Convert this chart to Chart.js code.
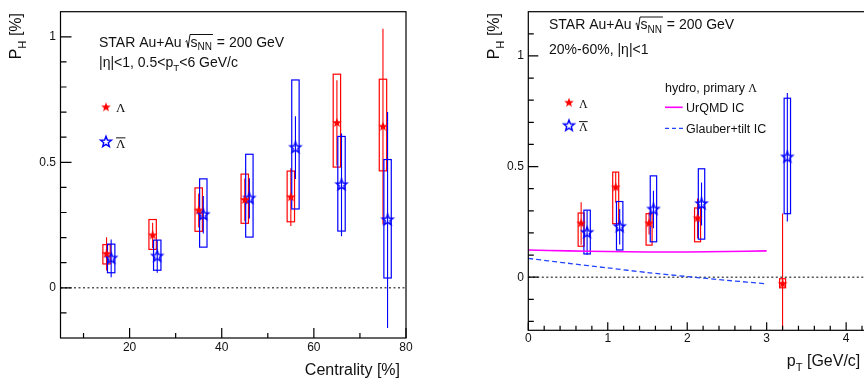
<!DOCTYPE html>
<html>
<head>
<meta charset="utf-8">
<script src="https://cdn.jsdelivr.net/npm/chart.js@4.4.1/dist/chart.umd.min.js"></script>
<style>
  html, body { margin: 0; padding: 0; background: #fff; overflow: hidden; width: 864px; height: 383px; }
  #centChart { position: absolute; left: 0; top: 0; }
  #ptChart { position: absolute; left: 432px; top: 0; }
</style>
</head>
<body>
<canvas id="centChart" width="432" height="383"></canvas>
<canvas id="ptChart" width="440" height="383"></canvas>
<script>
// Lambda polarization vs centrality
const centLam = [15, 25, 35, 45, 55, 65, 75];
const polLam = [0.135, 0.209, 0.308, 0.350, 0.361, 0.657, 0.642];
const statLam = [0.066, 0.05, 0.068, 0.085, 0.115, 0.17, 0.39];
const sysLamUp = [0.037, 0.063, 0.090, 0.103, 0.104, 0.194, 0.189];
const sysLamDn = [0.040, 0.056, 0.083, 0.093, 0.098, 0.176, 0.176];

// anti-Lambda polarization vs centrality
const centAnti = [16, 26, 36, 46, 56, 66, 76];
const polAnti = [0.117, 0.125, 0.291, 0.356, 0.558, 0.410, 0.270];
const statAnti = [0.075, 0.065, 0.075, 0.08, 0.125, 0.205, 0.43];
const sysAntiUp = [0.057, 0.065, 0.143, 0.176, 0.270, 0.193, 0.241];
const sysAntiDn = [0.057, 0.055, 0.129, 0.154, 0.244, 0.184, 0.231];

// pT dependence, 20-60%
const ptLam = [0.665, 1.10, 1.52, 2.13, 3.20];
const polLamPt = [0.243, 0.406, 0.243, 0.266, -0.030];
const statLamPt = [0.096, 0.07, 0.05, 0.09, 0.318];
const sysLamPtUp = [0.047, 0.069, 0.044, 0.047, 0.023];
const sysLamPtDn = [0.103, 0.164, 0.098, 0.106, 0.018];

const ptAnti = [0.74, 1.15, 1.575, 2.18, 3.26];
const polAntiPt = [0.201, 0.228, 0.306, 0.331, 0.542];
const statAntiPt = [0.10, 0.08, 0.085, 0.097, 0.29];
const sysAntiPtUp = [0.102, 0.114, 0.152, 0.159, 0.267];
const sysAntiPtDn = [0.096, 0.105, 0.146, 0.159, 0.255];

// hydro curves (primary Lambda)
const hydroPt = [0, 0.5, 1, 1.5, 2, 2.5, 3];
const urqmdPol = [0.123, 0.119, 0.116, 0.114, 0.114, 0.116, 0.119];
const glauberPol = [0.085, 0.063, 0.042, 0.021, 0.003, -0.014, -0.030];

// axis ticks
const centTicks = [20, 40, 60, 80];
const centMinor = [10, 30, 50, 70];
const polTicks = [0, 0.5, 1];
const polMinorCent = [-0.1, 0.1, 0.2, 0.3, 0.4, 0.6, 0.7, 0.8, 0.9];
const polMinorPt = [-0.2, -0.1, 0.1, 0.2, 0.3, 0.4, 0.6, 0.7, 0.8, 0.9, 1.1];
const ptTicks = [0, 1, 2, 3, 4];
const ptMinor = [0.2, 0.4, 0.6, 0.8, 1.2, 1.4, 1.6, 1.8, 2.2, 2.4, 2.6, 2.8, 3.2, 3.4, 3.6, 3.8, 4.2];

const SANS = '"Liberation Sans", Arial, Helvetica, sans-serif';
const SERIF = '"Liberation Serif", "Times New Roman", serif';
const INK = '#111';
const RED = '#ff0000';
const BLUE = '#0000ff';

function starImage(color, filled, r) {
  const size = Math.ceil(2 * r + 4);
  const c = document.createElement('canvas');
  c.width = c.height = size;
  const g = c.getContext('2d');
  g.beginPath();
  for (let i = 0; i < 10; i++) {
    const rr = i % 2 ? r * 0.42 : r;
    const ang = -Math.PI / 2 + i * Math.PI / 5;
    const px = size / 2 + rr * Math.cos(ang), py = size / 2 + rr * Math.sin(ang);
    if (i) g.lineTo(px, py); else g.moveTo(px, py);
  }
  g.closePath();
  if (filled) { g.fillStyle = color; g.fill(); }
  else { g.strokeStyle = color; g.lineWidth = 1.4; g.stroke(); }
  return c;
}
const redStar = starImage(RED, true, 5);
const blueStar = starImage(BLUE, false, 5.7);

function points(xs, ys) {
  return xs.map((x, i) => ({ x, y: ys[i] }));
}

// text with subscripts: parts are strings or {sub: '...'}
function richText(ctx, parts, x, y, size, align) {
  const fonts = parts.map(p => (typeof p === 'string' ? size : size * 0.7) + 'px ' + SANS);
  const texts = parts.map(p => (typeof p === 'string' ? p : p.sub));
  const widths = texts.map((t, i) => { ctx.font = fonts[i]; return ctx.measureText(t).width; });
  let cx = align === 'right' ? x - widths.reduce((a, b) => a + b, 0) : x;
  ctx.textAlign = 'left';
  texts.forEach((t, i) => {
    ctx.font = fonts[i];
    ctx.fillText(t, cx, y + (typeof parts[i] === 'string' ? 0 : size * 0.3));
    cx += widths[i];
  });
}

function drawEnergy(ctx, x, base) {
  ctx.font = '14px ' + SANS;
  ctx.fillText('STAR Au+Au', x, base);
  const cx = x + ctx.measureText('STAR Au+Au ').width;
  const sx = cx + 5;
  ctx.fillText('s', sx, base);
  const sw = ctx.measureText('s').width;
  ctx.font = '10px ' + SANS;
  ctx.fillText('NN', sx + sw, base + 3.5);
  const end = sx + sw + ctx.measureText('NN').width + 1;
  ctx.strokeStyle = INK;
  ctx.lineWidth = 1;
  ctx.beginPath();
  ctx.moveTo(cx, base - 5);
  ctx.lineTo(cx + 1.2, base - 6);
  ctx.lineTo(cx + 2.6, base + 1);
  ctx.lineTo(cx + 4.5, base - 12);
  ctx.lineTo(end, base - 12);
  ctx.stroke();
  ctx.font = '14px ' + SANS;
  ctx.fillText(' = 200 GeV', end, base);
}

function drawLambda(ctx, x, base, size, bar) {
  ctx.font = size + 'px ' + SERIF;
  ctx.textAlign = 'left';
  ctx.fillText('\u039B', x, base);
  if (bar) {
    const w = ctx.measureText('\u039B').width;
    ctx.lineWidth = 1;
    ctx.strokeStyle = INK;
    ctx.beginPath();
    ctx.moveTo(x, base - size * 0.78);
    ctx.lineTo(x + w, base - size * 0.78);
    ctx.stroke();
  }
}

function drawYTitle(ctx, bx, topY) {
  ctx.save();
  ctx.translate(bx, topY);
  ctx.rotate(-Math.PI / 2);
  richText(ctx, ['P', { sub: 'H' }, ' [%]'], 0, 0, 16, 'right');
  ctx.restore();
}

// ROOT-like frame: dotted zero line, systematic boxes, stat bars, inward ticks, texts
function framePlugin(cfg) {
  return {
    id: 'frame',
    beforeDatasetsDraw(chart) {
      const { ctx, chartArea: a, scales: { x, y } } = chart;
      ctx.save();
      const y0 = y.getPixelForValue(0);
      ctx.strokeStyle = '#555';
      ctx.lineWidth = 1.5;
      ctx.setLineDash([2, 2.5]);
      ctx.beginPath();
      ctx.moveTo(a.left, y0);
      ctx.lineTo(a.right, y0);
      ctx.stroke();
      ctx.setLineDash([]);
      ctx.beginPath();
      ctx.rect(a.left, a.top, a.right - a.left, a.bottom - a.top);
      ctx.clip();
      cfg.series.forEach(s => {
        ctx.strokeStyle = s.color;
        s.x.forEach((v, i) => {
          const px = x.getPixelForValue(v);
          const top = y.getPixelForValue(s.y[i] + s.up[i]);
          const bot = y.getPixelForValue(s.y[i] - s.dn[i]);
          ctx.lineWidth = 1.2;
          ctx.strokeRect(px - s.halfW, top, 2 * s.halfW, bot - top);
          ctx.lineWidth = 1.1;
          ctx.beginPath();
          ctx.moveTo(px, y.getPixelForValue(s.y[i] + s.stat[i]));
          ctx.lineTo(px, y.getPixelForValue(s.y[i] - s.stat[i]));
          ctx.stroke();
        });
      });
      ctx.restore();
    },
    afterDraw(chart) {
      const { ctx, chartArea: a, scales: { x, y } } = chart;
      ctx.save();
      ctx.strokeStyle = '#000';
      ctx.lineWidth = 1.2;
      ctx.strokeRect(a.left, a.top, a.right - a.left, a.bottom - a.top);
      ctx.beginPath();
      const [xMaj, xMin] = cfg.xTickLen;
      const [yMaj, yMin] = cfg.yTickLen;
      cfg.xMajor.forEach(v => { const p = x.getPixelForValue(v); ctx.moveTo(p, a.bottom); ctx.lineTo(p, a.bottom - xMaj); });
      cfg.xMinor.forEach(v => { const p = x.getPixelForValue(v); ctx.moveTo(p, a.bottom); ctx.lineTo(p, a.bottom - xMin); });
      cfg.yMajor.forEach(v => { const p = y.getPixelForValue(v); ctx.moveTo(a.left, p); ctx.lineTo(a.left + yMaj, p); });
      cfg.yMinor.forEach(v => { const p = y.getPixelForValue(v); ctx.moveTo(a.left, p); ctx.lineTo(a.left + yMin, p); });
      ctx.stroke();
      ctx.fillStyle = INK;
      cfg.texts(ctx, a);
      ctx.restore();
    }
  };
}

function xAxis(min, max, ticks, height, pad) {
  return {
    type: 'linear', min, max,
    afterBuildTicks: s => { s.ticks = ticks.map(v => ({ value: v })); },
    afterFit: s => { s.height = height; },
    grid: { display: false, drawTicks: false },
    border: { display: false },
    ticks: { color: INK, font: { family: SANS, size: 12 }, padding: pad, maxRotation: 0, autoSkip: false, callback: v => String(v) }
  };
}
function yAxis(min, max, ticks, width, pad) {
  return {
    type: 'linear', min, max,
    afterBuildTicks: s => { s.ticks = ticks.map(v => ({ value: v })); },
    afterFit: s => { s.width = width; },
    grid: { display: false, drawTicks: false },
    border: { display: false },
    ticks: { color: INK, font: { family: SANS, size: 12 }, padding: pad, autoSkip: false, callback: v => String(v) }
  };
}

function starSets(redX, redY, blueX, blueY) {
  return [
    { data: points(redX, redY), pointStyle: redStar, pointRadius: 5, showLine: false },
    { data: points(blueX, blueY), pointStyle: blueStar, pointRadius: 5, showLine: false }
  ];
}

const common = {
  responsive: false,
  animation: false,
  devicePixelRatio: 1,
  events: [],
  plugins: { legend: { display: false }, tooltip: { enabled: false } }
};

// left: centrality dependence
new Chart(document.getElementById('centChart'), {
  type: 'scatter',
  data: { datasets: starSets(centLam, polLam, centAnti, polAnti) },
  options: {
    ...common,
    layout: { padding: { left: 0, right: 26, top: 8, bottom: 0 } },
    scales: {
      x: xAxis(5, 80, centTicks, 45, 2),
      y: yAxis(-0.2, 1.1, polTicks, 60.5, 4.5)
    }
  },
  plugins: [framePlugin({
    series: [
      { x: centLam, y: polLam, stat: statLam, up: sysLamUp, dn: sysLamDn, color: RED, halfW: 3.7 },
      { x: centAnti, y: polAnti, stat: statAnti, up: sysAntiUp, dn: sysAntiDn, color: BLUE, halfW: 3.7 }
    ],
    xMajor: centTicks, xMinor: centMinor, yMajor: polTicks, yMinor: polMinorCent,
    xTickLen: [10, 5], yTickLen: [11, 6],
    texts(ctx) {
      drawEnergy(ctx, 99, 46.5);
      richText(ctx, ['|\u03B7|<1, 0.5<p', { sub: 'T' }, '<6 GeV/c'], 99, 66.5, 14, 'left');
      ctx.drawImage(redStar, 106 - redStar.width / 2, 107.3 - redStar.height / 2);
      drawLambda(ctx, 116, 112, 13, false);
      ctx.drawImage(blueStar, 106 - blueStar.width / 2, 142 - blueStar.height / 2);
      drawLambda(ctx, 116, 148, 13, true);
      drawYTitle(ctx, 21, 13);
      richText(ctx, ['Centrality [%]'], 400, 375, 16, 'right');
    }
  })]
});

// right: pT dependence with hydro curves
new Chart(document.getElementById('ptChart'), {
  type: 'scatter',
  data: {
    datasets: [
      { data: points(hydroPt, urqmdPol), showLine: true, pointRadius: 0, borderColor: '#ff00ff', borderWidth: 1.6, tension: 0.3 },
      { data: points(hydroPt, glauberPol), showLine: true, pointRadius: 0, borderColor: '#2244ff', borderWidth: 1.3, borderDash: [5, 3], tension: 0.3 },
      ...starSets(ptLam, polLamPt, ptAnti, polAntiPt)
    ]
  },
  options: {
    ...common,
    layout: { padding: { left: 0, right: 2.6, top: 8.5, bottom: 0 } },
    scales: {
      x: xAxis(0, 4.25, ptTicks, 52.7, 1),
      y: yAxis(-0.24, 1.2, polTicks, 96.3, 4.5)
    }
  },
  plugins: [framePlugin({
    series: [
      { x: ptLam, y: polLamPt, stat: statLamPt, up: sysLamPtUp, dn: sysLamPtDn, color: RED, halfW: 3 },
      { x: ptAnti, y: polAntiPt, stat: statAntiPt, up: sysAntiPtUp, dn: sysAntiPtDn, color: BLUE, halfW: 3.2 }
    ],
    xMajor: ptTicks, xMinor: ptMinor, yMajor: polTicks, yMinor: polMinorPt,
    xTickLen: [8, 4.5], yTickLen: [10, 5.5],
    texts(ctx) {
      drawEnergy(ctx, 117, 29);
      richText(ctx, ['20%-60%, |\u03B7|<1'], 117, 54, 14, 'left');
      ctx.drawImage(redStar, 137 - redStar.width / 2, 102.7 - redStar.height / 2);
      drawLambda(ctx, 147, 107.5, 12, false);
      ctx.drawImage(blueStar, 137 - blueStar.width / 2, 125.7 - blueStar.height / 2);
      drawLambda(ctx, 147, 131, 12, true);
      ctx.font = '12.5px ' + SANS;
      ctx.fillText('hydro, primary ', 233, 92.3);
      const hw = ctx.measureText('hydro, primary ').width;
      drawLambda(ctx, 233 + hw, 92.3, 12, false);
      ctx.lineWidth = 1.6;
      ctx.strokeStyle = '#ff00ff';
      ctx.beginPath(); ctx.moveTo(233, 107.3); ctx.lineTo(250.7, 107.3); ctx.stroke();
      ctx.lineWidth = 1.3;
      ctx.strokeStyle = '#2244ff';
      ctx.setLineDash([4, 3]);
      ctx.beginPath(); ctx.moveTo(233, 128.3); ctx.lineTo(251, 128.3); ctx.stroke();
      ctx.setLineDash([]);
      ctx.font = '12.5px ' + SANS;
      ctx.fillText('UrQMD IC', 254, 112);
      ctx.fillText('Glauber+tilt IC', 254, 132.5);
      drawYTitle(ctx, 67, 13);
      richText(ctx, ['p', { sub: 'T' }, ' [GeV/c]'], 428.3, 366, 16, 'right');
    }
  })]
});
</script>
</body>
</html>
